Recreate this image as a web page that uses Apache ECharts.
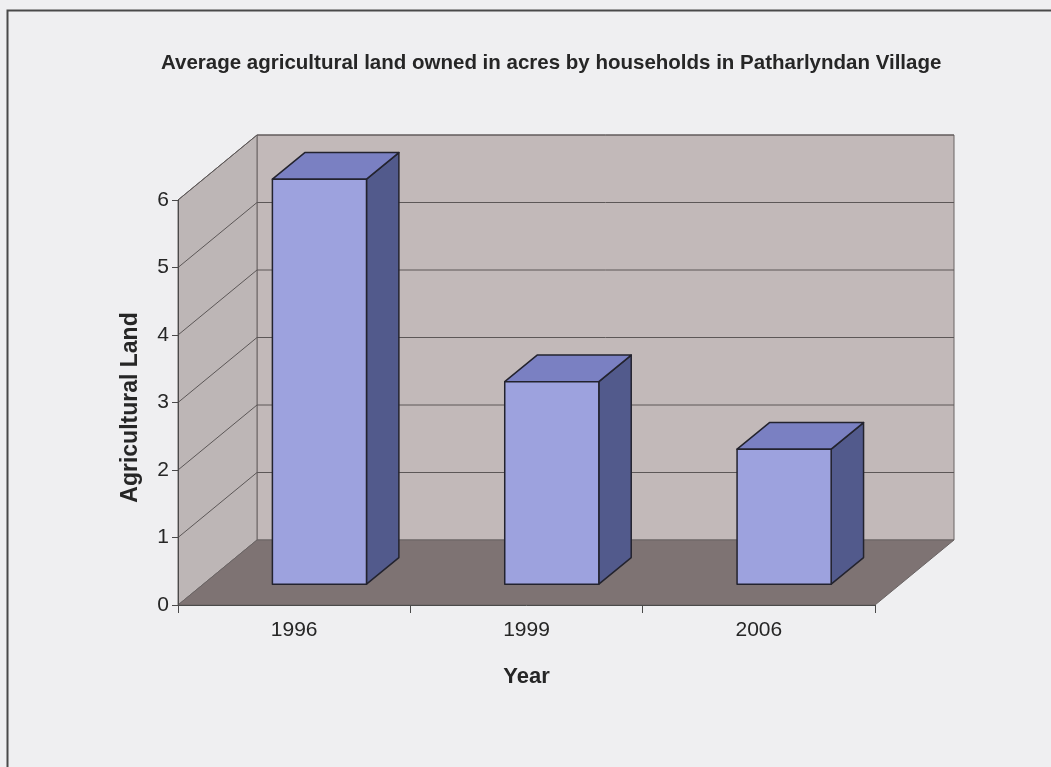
<!DOCTYPE html>
<html>
<head>
<meta charset="utf-8">
<title>Average agricultural land owned</title>
<script src="https://cdn.jsdelivr.net/npm/echarts@6/dist/echarts.min.js"></script>
<style>
  html, body { margin: 0; padding: 0; background: #efeff1; }
  #chart { width: 1051px; height: 767px; }
</style>
</head>
<body>
<div id="chart"></div>
<script>
// Survey years and average land owned (acres)
const categories = ['1996', '1999', '2006'];
const landValues = [6, 3, 2];
const yTicks = [0, 1, 2, 3, 4, 5, 6];

// Oblique depth of the box (pixels) and bar placement inside it
const DEPTH = { x: 79, y: 65 };
const BAR_FRONT = 0.32;   // fraction of depth where a bar's front face sits
const BAR_DEPTH = 0.41;   // fraction of depth a bar occupies
const BAR_WIDTH = 0.405;  // fraction of category band

const FONT = 'Liberation Sans, Arial, sans-serif';

const COLORS = {
  bg: '#efeff1',
  backWall: '#c2b9b9',
  sideWall: '#bdb6b6',
  floor: '#7e7373',
  wallEdge: '#6a6464',
  grid: '#5c5757',
  front: '#9da2de',
  top: '#7a80c2',
  side: '#525a8c',
  barEdge: '#23232e',
  axis: '#4a4a4a',
  text: '#262626'
};

function wallsItem(params, api) {
  const cs = params.coordSys;
  const x0 = cs.x, x1 = cs.x + cs.width;
  const yb = api.coord([0, 0])[1];
  const yt = api.coord([0, yTicks[yTicks.length - 1]])[1];
  const dx = DEPTH.x, dy = DEPTH.y;
  const edge = { stroke: COLORS.wallEdge, lineWidth: 1 };
  return {
    type: 'group',
    children: [
      { type: 'polygon', shape: { points: [[x0 + dx, yb - dy], [x1 + dx, yb - dy], [x1 + dx, yt - dy], [x0 + dx, yt - dy]] },
        style: Object.assign({ fill: COLORS.backWall }, edge) },
      { type: 'polygon', shape: { points: [[x0, yb], [x0 + dx, yb - dy], [x0 + dx, yt - dy], [x0, yt]] },
        style: Object.assign({ fill: COLORS.sideWall }, edge) }
    ]
  };
}

function gridItem(params, api) {
  const cs = params.coordSys;
  const x0 = cs.x, x1 = cs.x + cs.width;
  const y = api.coord([0, api.value(0)])[1];
  if (api.value(0) === 0) return null;
  return {
    type: 'polyline',
    shape: { points: [[x0, y], [x0 + DEPTH.x, y - DEPTH.y], [x1 + DEPTH.x, y - DEPTH.y]] },
    style: { stroke: COLORS.grid, lineWidth: 1, fill: null }
  };
}

function floorItem(params, api) {
  const cs = params.coordSys;
  const x0 = cs.x, x1 = cs.x + cs.width;
  const yb = api.coord([0, 0])[1];
  return {
    type: 'polygon',
    shape: { points: [[x0, yb], [x1, yb], [x1 + DEPTH.x, yb - DEPTH.y], [x0 + DEPTH.x, yb - DEPTH.y]] },
    style: { fill: COLORS.floor, stroke: COLORS.wallEdge, lineWidth: 1 }
  };
}

function barItem(params, api) {
  const idx = api.value(0);
  const val = api.value(1);
  const base = api.coord([idx, 0]);
  const topPt = api.coord([idx, val]);
  const band = api.size([1, 0])[0];
  const w = band * BAR_WIDTH;
  const fx = DEPTH.x * BAR_FRONT, fy = DEPTH.y * BAR_FRONT;
  const bx = DEPTH.x * BAR_DEPTH, by = DEPTH.y * BAR_DEPTH;
  const L = base[0] + fx - w / 2, R = base[0] + fx + w / 2;
  const B = base[1] - fy, T = topPt[1] - fy;
  const edge = { stroke: COLORS.barEdge, lineWidth: 1.5, lineJoin: 'round' };
  return {
    type: 'group',
    children: [
      { type: 'polygon', shape: { points: [[R, T], [R + bx, T - by], [R + bx, B - by], [R, B]] },
        style: Object.assign({ fill: COLORS.side }, edge) },
      { type: 'polygon', shape: { points: [[L, T], [R, T], [R + bx, T - by], [L + bx, T - by]] },
        style: Object.assign({ fill: COLORS.top }, edge) },
      { type: 'rect', shape: { x: L, y: T, width: R - L, height: B - T },
        style: Object.assign({ fill: COLORS.front }, edge) }
    ]
  };
}

const chart = echarts.init(document.getElementById('chart'), null, { renderer: 'canvas' });

chart.setOption({
  backgroundColor: COLORS.bg,
  animation: false,
  title: {
    text: 'Average agricultural land owned in acres by households in Patharlyndan Village',
    left: 156,
    top: 48,
    textStyle: { fontFamily: FONT, fontSize: 20.5, fontWeight: 'bold', color: COLORS.text }
  },
  graphic: [
    { type: 'rect', left: 5, top: 8, shape: { width: 1100, height: 800 }, silent: true, z: 100,
      style: { fill: null, stroke: '#4a4a4a', lineWidth: 2 } }
  ],
  grid: { left: 178, right: 176, top: 200, bottom: 162 },
  xAxis: {
    type: 'category',
    data: categories,
    name: 'Year',
    nameLocation: 'middle',
    nameGap: 61,
    nameTextStyle: { fontFamily: FONT, fontSize: 22, fontWeight: 'bold', color: COLORS.text },
    axisLine: { show: true, lineStyle: { color: COLORS.axis, width: 1 } },
    axisTick: { show: true, length: 8, lineStyle: { color: COLORS.axis } },
    axisLabel: { fontFamily: FONT, fontSize: 21, color: COLORS.text, margin: 15 },
    splitLine: { show: false },
    z: 10
  },
  yAxis: {
    type: 'value',
    min: 0,
    max: 6,
    interval: 1,
    name: 'Agricultural Land',
    nameLocation: 'middle',
    nameGap: 36,
    nameTextStyle: { fontFamily: FONT, fontSize: 23, fontWeight: 'bold', color: COLORS.text, padding: [0, 10, 0, 0] },
    axisLine: { show: true, lineStyle: { color: COLORS.axis, width: 1 } },
    axisTick: { show: true, length: 6, lineStyle: { color: COLORS.axis } },
    axisLabel: { fontFamily: FONT, fontSize: 21, color: COLORS.text, margin: 9 },
    splitLine: { show: false },
    z: 10
  },
  series: [
    { type: 'custom', name: 'walls', renderItem: wallsItem, data: [[0]], z: 1, silent: true },
    { type: 'custom', name: 'gridlines', renderItem: gridItem, data: yTicks.map(v => [v]), z: 2, silent: true },
    { type: 'custom', name: 'floor', renderItem: floorItem, data: [[0]], z: 3, silent: true },
    { type: 'custom', name: 'Agricultural Land', renderItem: barItem,
      data: landValues.map((v, i) => [i, v]), z: 4 }
  ]
});
</script>
</body>
</html>
